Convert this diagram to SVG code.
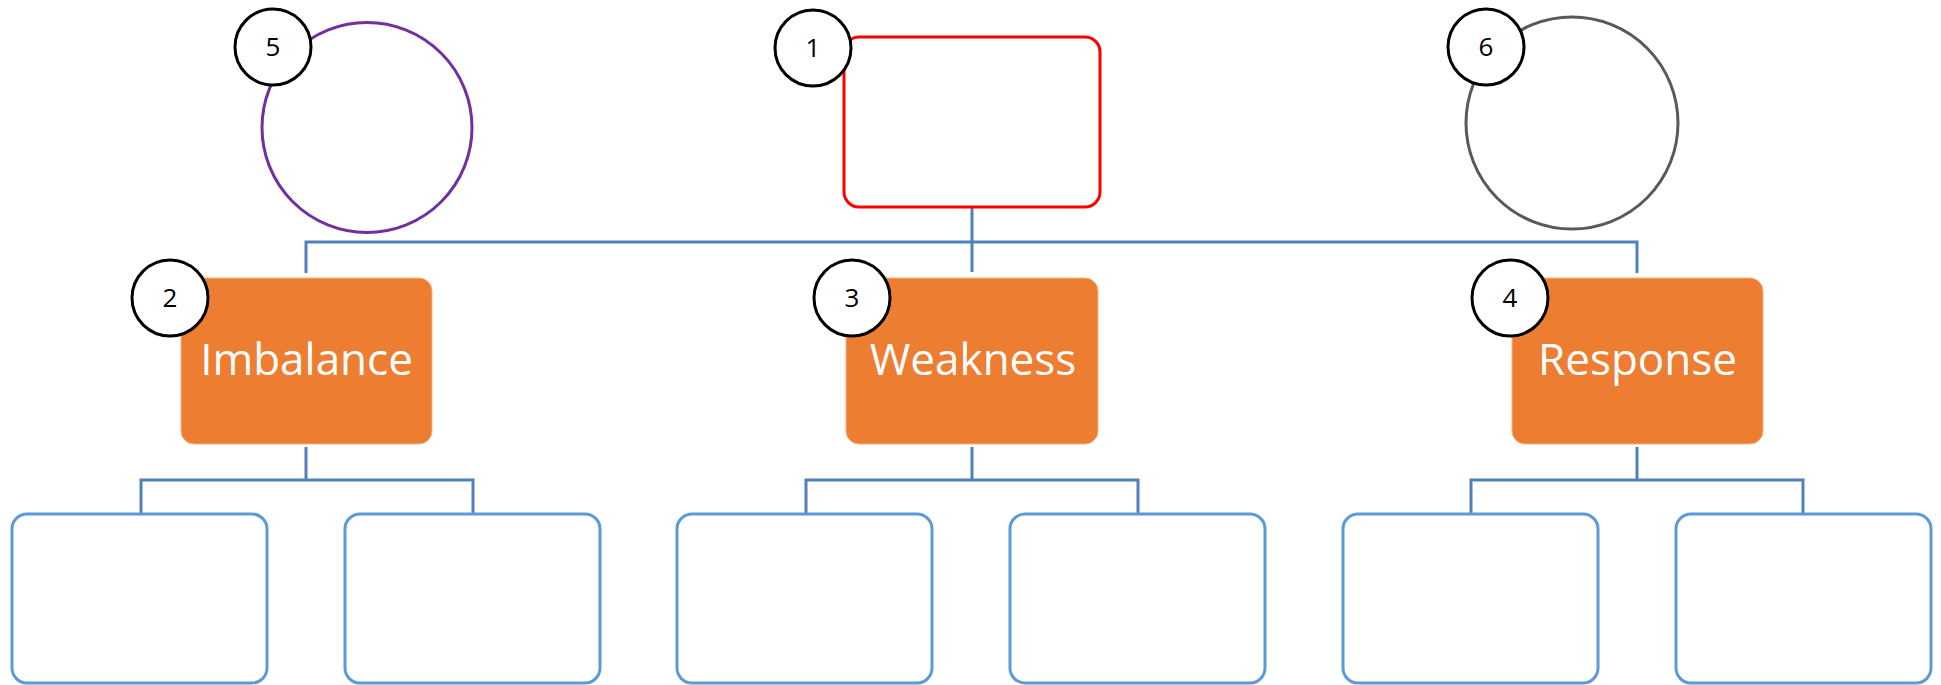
<svg xmlns="http://www.w3.org/2000/svg" width="1941" height="685" viewBox="0 0 1941 685">
  <style>
    .conn { fill: none; stroke: #4F81BD; stroke-width: 3; }
    .leaf { fill: #FFFFFF; stroke: #5B9BD5; stroke-width: 3; }
    .cat { fill: #ED7D31; stroke: #F4B183; stroke-width: 1; }
    .cat-label { fill: #FFFFFF; font-family: "Open Sans", "Noto Sans", sans-serif; font-size: 44px; text-anchor: middle; }
    .badge { fill: #FFFFFF; stroke: #000000; stroke-width: 3; }
    .badge-label { fill: #000000; font-family: "Open Sans", "Noto Sans", sans-serif; font-size: 26px; text-anchor: middle; }
  </style>
  <rect width="1941" height="685" fill="#FFFFFF"/>

  <!-- connectors -->
  <g id="connectors">
    <path class="conn" d="M972,207 V272 M306,273 V242 H1637 V273"/>
    <path class="conn" d="M306,447 V480 M141,514 V480 H473 V514"/>
    <path class="conn" d="M972,447 V480 M806,514 V480 H1138 V514"/>
    <path class="conn" d="M1637,447 V480 M1471,514 V480 H1803 V514"/>
  </g>

  <!-- top row -->
  <g id="node-root">
    <rect x="844" y="37" width="256" height="170" rx="15" fill="#FFFFFF" stroke="#FF0000" stroke-width="3"/>
  </g>
  <g id="node-circle-left">
    <circle cx="367" cy="127.5" r="105" fill="#FFFFFF" stroke="#7030A0" stroke-width="3"/>
  </g>
  <g id="node-circle-right">
    <circle cx="1572" cy="123" r="106" fill="#FFFFFF" stroke="#595959" stroke-width="3"/>
  </g>

  <!-- category row -->
  <g id="node-imbalance">
    <rect class="cat" x="181" y="278" width="251" height="166" rx="13"/>
    <text class="cat-label" x="306.5" y="375">Imbalance</text>
  </g>
  <g id="node-weakness">
    <rect class="cat" x="846" y="278" width="252" height="166" rx="13"/>
    <text class="cat-label" x="973" y="375">Weakness</text>
  </g>
  <g id="node-response">
    <rect class="cat" x="1512" y="278" width="251" height="166" rx="13"/>
    <text class="cat-label" x="1637.5" y="375">Response</text>
  </g>

  <!-- leaf row -->
  <g id="node-leaf-1"><rect class="leaf" x="12" y="514" width="255" height="169" rx="15"/></g>
  <g id="node-leaf-2"><rect class="leaf" x="345" y="514" width="255" height="169" rx="15"/></g>
  <g id="node-leaf-3"><rect class="leaf" x="677" y="514" width="255" height="169" rx="15"/></g>
  <g id="node-leaf-4"><rect class="leaf" x="1010" y="514" width="255" height="169" rx="15"/></g>
  <g id="node-leaf-5"><rect class="leaf" x="1343" y="514" width="255" height="169" rx="15"/></g>
  <g id="node-leaf-6"><rect class="leaf" x="1676" y="514" width="255" height="169" rx="15"/></g>

  <!-- numbered badges -->
  <g id="badge-1"><circle class="badge" cx="813" cy="48" r="38"/><text class="badge-label" x="813" y="57">1</text></g>
  <g id="badge-2"><circle class="badge" cx="170" cy="298" r="38"/><text class="badge-label" x="170" y="307">2</text></g>
  <g id="badge-3"><circle class="badge" cx="852" cy="298" r="38"/><text class="badge-label" x="852" y="307">3</text></g>
  <g id="badge-4"><circle class="badge" cx="1510" cy="298" r="38"/><text class="badge-label" x="1510" y="307">4</text></g>
  <g id="badge-5"><circle class="badge" cx="273" cy="47" r="38"/><text class="badge-label" x="273" y="56">5</text></g>
  <g id="badge-6"><circle class="badge" cx="1486" cy="47" r="38"/><text class="badge-label" x="1486" y="56">6</text></g>
</svg>
